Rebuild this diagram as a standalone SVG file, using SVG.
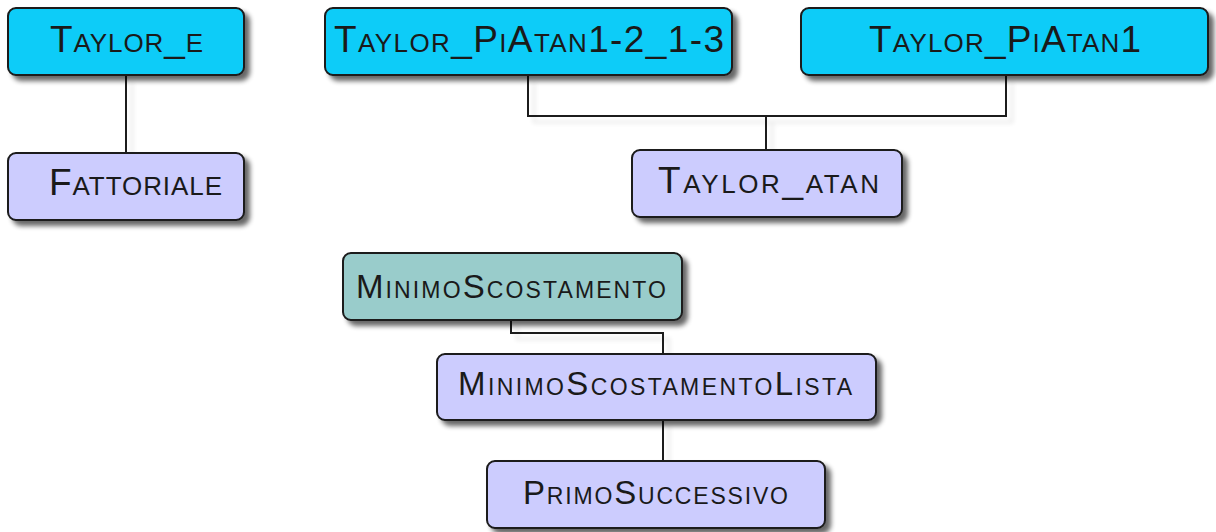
<svg xmlns="http://www.w3.org/2000/svg" width="1216" height="532" viewBox="0 0 1216 532">
<defs>
<filter id="sh" x="-10%" y="-20%" width="125%" height="150%">
<feGaussianBlur in="SourceAlpha" stdDeviation="2.5"/>
<feOffset dx="5" dy="5" result="b"/>
<feComponentTransfer><feFuncA type="linear" slope="0.6"/></feComponentTransfer>
<feMerge><feMergeNode/><feMergeNode in="SourceGraphic"/></feMerge>
</filter>
<filter id="lsh" x="-10%" y="-20%" width="130%" height="160%">
<feGaussianBlur in="SourceAlpha" stdDeviation="2.5"/>
<feOffset dx="6" dy="6" result="b"/>
<feComponentTransfer><feFuncA type="linear" slope="0.12"/></feComponentTransfer>
<feMerge><feMergeNode/><feMergeNode in="SourceGraphic"/></feMerge>
</filter>
</defs>
<style>
.box{stroke:#1a1a1a;stroke-width:2}
.cyan{fill:#11ccf8}
.lav{fill:#ccccfe}
.teal{fill:#99cccb}
.t{font-family:"Liberation Sans",Arial,sans-serif;font-variant:small-caps;fill:#1a1a1a;font-size:37px}
.s{font-size:33px}
.c{fill:none;stroke:#1a1a1a;stroke-width:2}
</style>
<rect width="1216" height="532" fill="#ffffff"/>
<g id="connectors" filter="url(#lsh)">
<path class="c" d="M126 75 V153"/>
<path class="c" d="M528 75 V116 H1006 V75"/>
<path class="c" d="M766 116 V150"/>
<path class="c" d="M511 320 V333 H663 V354"/>
<path class="c" d="M663 420 V461"/>
</g>
<g id="Taylor_e">
<rect class="box cyan" x="8" y="8" width="236" height="67" rx="8" filter="url(#sh)"/>
<text class="t" x="50" y="52" textLength="153" lengthAdjust="spacing">Taylor_e</text>
</g>
<g id="Fattoriale">
<rect class="box lav" x="8" y="153" width="236" height="67" rx="8" filter="url(#sh)"/>
<text class="t" x="49" y="195" textLength="173" lengthAdjust="spacing">Fattoriale</text>
</g>
<g id="Taylor_PiAtan1-2_1-3">
<rect class="box cyan" x="325" y="8" width="407" height="67" rx="8" filter="url(#sh)"/>
<text class="t" x="334" y="52" textLength="390" lengthAdjust="spacing">Taylor_PiAtan1-2_1-3</text>
</g>
<g id="Taylor_PiAtan1">
<rect class="box cyan" x="801" y="8" width="407" height="67" rx="8" filter="url(#sh)"/>
<text class="t" x="869" y="52" textLength="272" lengthAdjust="spacing">Taylor_PiAtan1</text>
</g>
<g id="Taylor_atan">
<rect class="box lav" x="632" y="150" width="270" height="67" rx="8" filter="url(#sh)"/>
<text class="t" x="658" y="193" textLength="221" lengthAdjust="spacing">Taylor_atan</text>
</g>
<g id="MinimoScostamento">
<rect class="box teal" x="343" y="253" width="339" height="67" rx="8" filter="url(#sh)"/>
<text class="t s" x="356" y="298" textLength="310" lengthAdjust="spacing">MinimoScostamento</text>
</g>
<g id="MinimoScostamentoLista">
<rect class="box lav" x="437" y="354" width="439" height="66" rx="8" filter="url(#sh)"/>
<text class="t s" x="458" y="395" textLength="394" lengthAdjust="spacing">MinimoScostamentoLista</text>
</g>
<g id="PrimoSuccessivo">
<rect class="box lav" x="487" y="461" width="338" height="67" rx="8" filter="url(#sh)"/>
<text class="t s" x="523" y="504" textLength="265" lengthAdjust="spacing">PrimoSuccessivo</text>
</g>
</svg>
